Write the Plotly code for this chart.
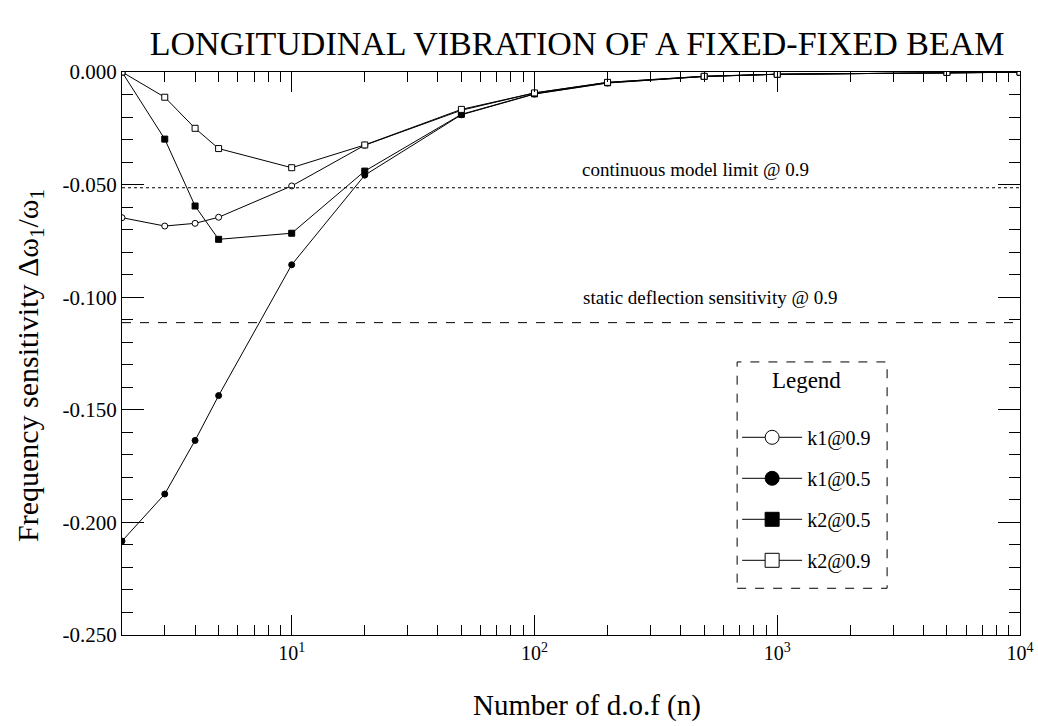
import plotly.graph_objects as go

# ---- data ----
n_dof = [2, 3, 4, 5, 10, 20, 50, 100, 200, 500, 1000, 5000, 10000]
k1_09 = [-0.0647, -0.0684, -0.0672, -0.0645, -0.0506, -0.0325, -0.0170, -0.0093, -0.0046, -0.0019, -0.0010, -0.0002, -0.0001]
k1_05 = [-0.2083, -0.1874, -0.1636, -0.1437, -0.0856, -0.0458, -0.0190, -0.0098, -0.0049, -0.0020, -0.0010, -0.0002, -0.0001]
k2_05 = [0.0000, -0.0298, -0.0595, -0.0743, -0.0716, -0.0440, -0.0188, -0.0097, -0.0048, -0.0020, -0.0010, -0.0002, -0.0001]
k2_09 = [0.0000, -0.0112, -0.0250, -0.0340, -0.0425, -0.0324, -0.0166, -0.0093, -0.0046, -0.0019, -0.0010, -0.0002, -0.0001]

continuous_limit = -0.0514
static_deflection = -0.1113

x_tickvals = [10, 100, 1000, 10000]
x_ticktext = ["10<sup>1</sup>", "10<sup>2</sup>", "10<sup>3</sup>", "10<sup>4</sup>"]
x_minor = [m * 10 ** e for e in range(0, 4) for m in range(2, 10) if m * 10 ** e <= 10000]
y_tickvals = [0.0, -0.05, -0.10, -0.15, -0.20, -0.25]
y_ticktext = ["0.000", "-0.050", "-0.100", "-0.150", "-0.200", "-0.250"]

FONT = "Liberation Serif"

series = [
    ("k1@0.9", k1_09, "circle", "white"),
    ("k1@0.5", k1_05, "circle", "black"),
    ("k2@0.5", k2_05, "square", "black"),
    ("k2@0.9", k2_09, "square", "white"),
]

fig = go.Figure()
for i, (name, ys, sym, fill) in enumerate(series):
    fig.add_trace(go.Scatter(
        x=n_dof, y=ys, name=name, mode="lines+markers", showlegend=False,
        line=dict(color="black", width=1),
        marker=dict(symbol=sym, size=6, color=fill, line=dict(color="black", width=1)),
    ))
# legend entries (larger markers, as in the reference legend)
for i, (name, ys, sym, fill) in enumerate(series):
    fig.add_trace(go.Scatter(
        x=[None], y=[None], name=name, mode="lines+markers", legendgroup=f"g{i}",
        line=dict(color="black", width=1),
        marker=dict(symbol=sym, size=14, color=fill, line=dict(color="black", width=1)),
    ))

fig.add_hline(y=continuous_limit, line=dict(color="black", width=1, dash="dot"))
fig.add_hline(y=static_deflection, line=dict(color="black", width=1, dash="dash"))

fig.add_annotation(x=2.665, y=continuous_limit, xref="x", yref="y", text="continuous model limit @ 0.9",
                   xanchor="center", showarrow=False, yshift=18, font=dict(family=FONT, size=19, color="black"))
fig.add_annotation(x=2.723, y=static_deflection, xref="x", yref="y", text="static deflection sensitivity @ 0.9",
                   xanchor="center", showarrow=False, yshift=25, font=dict(family=FONT, size=19, color="black"))

# axis titles
fig.add_annotation(x=(30 - 122) / 898, y=(635 - 366) / 563, xref="paper", yref="paper",
                   text="Frequency sensitivity \u0394\u03c9<sub>1</sub>/\u03c9<sub>1</sub>", textangle=-90,
                   xanchor="center", yanchor="middle", showarrow=False,
                   font=dict(family=FONT, size=30, color="black"))
fig.add_annotation(x=(587 - 122) / 898, y=(635 - 705) / 563, xref="paper", yref="paper",
                   text="Number of d.o.f (n)", xanchor="center", yanchor="middle", showarrow=False,
                   font=dict(family=FONT, size=29, color="black"))

# dashed legend frame
fig.add_shape(type="rect", xref="paper", yref="paper", x0=0.685, x1=0.852, y0=0.083, y1=0.485,
              line=dict(color="black", width=1, dash="dash"), fillcolor="rgba(0,0,0,0)")

fig.update_layout(
    width=1038, height=726,
    paper_bgcolor="white", plot_bgcolor="white",
    margin=dict(l=122, r=18, t=72, b=91),
    font=dict(family=FONT, color="black"),
    title=dict(text="LONGITUDINAL VIBRATION OF A FIXED-FIXED BEAM", x=0.556, xanchor="center",
               y=1 - 43 / 726, yanchor="middle", font=dict(family=FONT, size=34, color="black")),
    showlegend=True,
    legend=dict(
        x=0.685, y=0.492, xanchor="left", yanchor="top",
        title=dict(text="Legend<br>\u00a0", side="top center", font=dict(family=FONT, size=23)),
        font=dict(family=FONT, size=20),
        bgcolor="rgba(0,0,0,0)", borderwidth=0,
        traceorder="grouped", tracegroupgap=12, itemwidth=60,
    ),
    xaxis=dict(
        type="log", range=[0.30103, 4.0], automargin=False,
        tickvals=x_tickvals, ticktext=x_ticktext,
        ticks="inside", ticklen=20, tickcolor="black",
        showline=True, linecolor="black", linewidth=1, mirror="ticks",
        showgrid=False, zeroline=False,
        tickfont=dict(family=FONT, size=20),
        minor=dict(tickvals=x_minor, ticks="inside", ticklen=10, tickcolor="black", showgrid=False),
    ),
    yaxis=dict(
        range=[-0.25, 0.0], automargin=False,
        tickvals=y_tickvals, ticktext=y_ticktext,
        ticks="inside", ticklen=22, tickcolor="black",
        showline=True, linecolor="black", linewidth=1, mirror="ticks",
        showgrid=False, zeroline=False,
        tickfont=dict(family=FONT, size=21),
        minor=dict(dtick=0.01, ticks="inside", ticklen=11, tickcolor="black", showgrid=False),
    ),
)

fig.write_html("out.html", config={"displayModeBar": False},
               post_script="document.body.style.margin='0px';")
